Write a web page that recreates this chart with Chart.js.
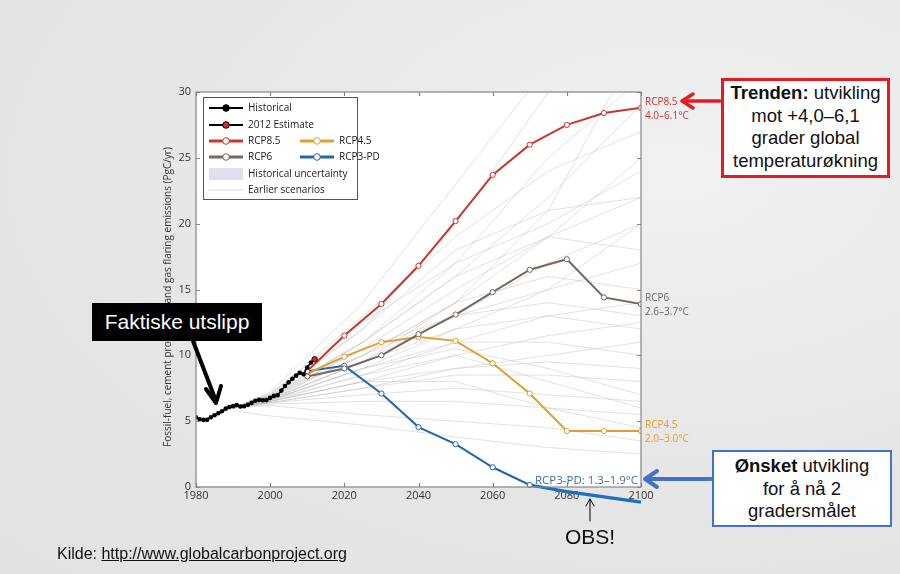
<!DOCTYPE html>
<html>
<head>
<meta charset="utf-8">
<script src="https://cdn.jsdelivr.net/npm/chart.js@4.4.1/dist/chart.umd.min.js"></script>
<style>
  body { margin: 0; background: #e6e6e6; font-family: "Liberation Sans", Arial, sans-serif; }
  #wrap { position: relative; width: 900px; height: 574px; overflow: hidden;
          background: radial-gradient(ellipse at 75% 30%, #f1f1f1 0%, #e6e6e6 55%, #e2e2e2 100%); }
  #chart { position: absolute; left: 0; top: 0; }
  .box { position: absolute; box-sizing: border-box; text-align: center; color: #111;
         font-size: 18.5px; line-height: 22.7px; background: #fff; }
  #faktisk { left: 92px; top: 303px; width: 170px; height: 38px; background: #000; color: #fff;
             font-size: 21px; line-height: 38px; }
  #trend { left: 721px; top: 78px; width: 169px; height: 100px; border: 3px solid #e31b23; padding-top: 1px; }
  #onsket { left: 712px; top: 450px; width: 180px; height: 77px; border: 2.5px solid #4472c4; padding-top: 3px; }
  #obs { position: absolute; left: 555px; top: 525px; width: 70px; text-align: center; font-size: 21px; color: #111; }
  #kilde { position: absolute; left: 57px; top: 545px; font-size: 16px; color: #111; }
  #kilde span { text-decoration: underline; }
  svg { position: absolute; left: 0; top: 0; }
</style>
</head>
<body>
<div id="wrap">
  <canvas id="chart" width="900" height="574"></canvas>
  <svg width="900" height="574">
    <g fill="none" stroke-linecap="round" stroke-linejoin="round">
      <path d="M193 341 L216 401" stroke="#000" stroke-width="4"/>
      <path d="M206 389 L216 403 L221 386" stroke="#000" stroke-width="4"/>
      <path d="M720 101 L684 101" stroke="#e31b23" stroke-width="3.5"/>
      <path d="M693 94 L682 101 L693 108" stroke="#e31b23" stroke-width="3.5"/>
      <path d="M711 479 L647 479" stroke="#4472c4" stroke-width="4"/>
      <path d="M657 471 L645 479 L657 487" stroke="#4472c4" stroke-width="4"/>
      <path d="M590 521 L590 499" stroke="#000" stroke-width="1"/>
      <path d="M586 506 L590 499 L594 506" stroke="#000" stroke-width="1"/>
    </g>
  </svg>
  <div class="box" id="faktisk">Faktiske utslipp</div>
  <div class="box" id="trend"><b>Trenden:</b> utvikling<br>mot +4,0–6,1<br>grader global<br>temperaturøkning</div>
  <div class="box" id="onsket"><b>Ønsket</b> utvikling<br>for å nå 2<br>gradersmålet</div>
  <div id="obs">OBS!</div>
  <div id="kilde">Kilde: <span>http://www.globalcarbonproject.org</span></div>
</div>
<script>
// historical emissions (PgC/yr)
const histYears = [1980, 1981, 1982, 1983, 1984, 1985, 1986, 1987, 1988, 1989, 1990, 1991, 1992, 1993, 1994, 1995,
  1996, 1997, 1998, 1999, 2000, 2001, 2002, 2003, 2004, 2005, 2006, 2007, 2008, 2009, 2010, 2011];
const histValues = [5.3, 5.15, 5.1, 5.1, 5.3, 5.45, 5.6, 5.75, 5.95, 6.07, 6.14, 6.23, 6.11, 6.13, 6.25, 6.39,
  6.55, 6.62, 6.59, 6.6, 6.77, 6.92, 6.97, 7.32, 7.67, 7.95, 8.22, 8.46, 8.68, 8.56, 9.08, 9.45];
const estimateYear = 2012;
const estimateValue = 9.7;

// RCP scenarios
const rcpYears = [2010, 2020, 2030, 2040, 2050, 2060, 2070, 2080, 2090, 2100];
const rcp85 = [8.8, 11.5, 13.9, 16.8, 20.2, 23.7, 26.0, 27.5, 28.4, 28.8];
const rcp6 = [8.4, 9.0, 10.0, 11.6, 13.1, 14.8, 16.5, 17.3, 14.4, 13.9];
const rcp45 = [8.6, 9.9, 11.0, 11.4, 11.1, 9.4, 7.1, 4.25, 4.25, 4.25];
const rcp3pd = [8.8, 9.2, 7.1, 4.55, 3.25, 1.5, 0.15, -0.35, -0.75, -1.15];

// earlier scenarios (grey fan)
const oldYears = [1990, 2000, 2025, 2050, 2075, 2100];
const oldScenarios = [
  [6.0, 7.0, 12, 20, 30, 38],
  [6.0, 7.2, 14, 23, 32, 40],
  [6.0, 7.0, 11, 17, 25, 31],
  [6.0, 6.8, 11, 16, 22, 29],
  [6.0, 7.0, 13, 19, 24, 27],
  [6.0, 6.9, 10, 14, 19, 25],
  [6.0, 6.8, 10.5, 15, 19, 22],
  [6.0, 6.7, 9.5, 13, 17, 20],
  [6.0, 6.9, 11, 16, 19, 18],
  [6.0, 6.6, 9, 12, 15, 17],
  [6.0, 6.8, 10, 14, 16, 15],
  [6.0, 6.6, 8.5, 11, 13, 14],
  [6.0, 6.7, 9.5, 12, 13, 12],
  [6.0, 6.5, 8, 10, 11.5, 12.5],
  [6.0, 6.6, 9, 11, 11, 10],
  [6.0, 6.5, 8, 9, 9.5, 9],
  [6.0, 6.4, 7.5, 8.5, 8.5, 8],
  [6.0, 6.5, 8.5, 10, 8, 6],
  [6.0, 6.4, 7, 7.5, 7, 6.5],
  [6.0, 6.3, 6.5, 6.5, 6, 5.5],
  [6.0, 6.5, 8, 8, 6, 4.5],
  [6.0, 6.2, 5.5, 5, 4.5, 3.5],
  [6.0, 6.6, 9.5, 14, 21, 34],
  [6.0, 6.8, 12, 18, 21, 22],
  [6.0, 6.7, 10, 13, 15, 20],
  [6.0, 6.4, 7.5, 9, 10, 11],
  [5.8, 5.4, 4.7, 3.8, 3.0, 2.5],
  [6.0, 7.1, 12.5, 17, 20, 24],
  [6.0, 6.9, 10.5, 13, 14, 13],
  [6.0, 6.6, 9, 10.5, 9, 7]
];

const xTicks = [1980, 2000, 2020, 2040, 2060, 2080, 2100];
const yTicks = [0, 5, 10, 15, 20, 25, 30];

const RED = '#c9362b', BROWN = '#756860', ORANGE = '#e0a02e', BLUE = '#2566ab';
const pts = (xs, ys) => xs.map((x, i) => ({ x, y: ys[i] }));

const rcpSet = (label, data, color) => ({
  label, data: pts(rcpYears, data), borderColor: color, borderWidth: 2,
  pointRadius: 2.6, pointBackgroundColor: '#fff', pointBorderColor: color, pointBorderWidth: 1,
  order: 1
});

const datasets = [];
oldScenarios.forEach((s, i) => datasets.push({
  label: 'old' + i, data: pts(oldYears, s), borderColor: 'rgba(185,185,185,0.42)',
  borderWidth: 1, pointRadius: 0, order: 3
}));
datasets.push(rcpSet('RCP8.5', rcp85, RED));
datasets.push(rcpSet('RCP6', rcp6, BROWN));
datasets.push(rcpSet('RCP4.5', rcp45, ORANGE));
const blue = rcpSet('RCP3-PD', rcp3pd, BLUE);
blue.clip = false;
blue.pointRadius = rcp3pd.map((v, i) => rcpYears[i] > 2070 ? 0 : 2.6);
blue.segment = { borderWidth: c => rcpYears[c.p0DataIndex] >= 2070 ? 3.2 : 2,
                 borderColor: c => rcpYears[c.p0DataIndex] >= 2070 ? '#1f6fc0' : BLUE };
datasets.push(blue);
datasets.push({
  label: 'Historical', data: pts(histYears, histValues), borderColor: '#000', borderWidth: 1.5,
  pointRadius: 2.3, pointBackgroundColor: '#000', pointBorderWidth: 0, order: 0
});
datasets.push({
  label: '2012 Estimate', data: [{ x: estimateYear, y: estimateValue }], borderColor: '#000',
  pointRadius: 2.8, pointBackgroundColor: '#d9262b', pointBorderColor: '#000', pointBorderWidth: 0.8,
  showLine: false, order: 0
});

const FONT = '"Open Sans", sans-serif';

// white plot area, frame with inward ticks, legend and labels
const decor = {
  id: 'decor',
  beforeDraw(chart) {
    const a = chart.chartArea, ctx = chart.ctx;
    ctx.save();
    ctx.fillStyle = '#fff';
    ctx.fillRect(a.left, a.top, a.right - a.left, a.bottom - a.top);
    ctx.restore();
  },
  afterDraw(chart) {
    const a = chart.chartArea, ctx = chart.ctx, x = chart.scales.x, y = chart.scales.y;
    ctx.save();
    ctx.strokeStyle = '#858585';
    ctx.lineWidth = 1.2;
    ctx.strokeRect(a.left, a.top, a.right - a.left, a.bottom - a.top);
    ctx.beginPath();
    yTicks.forEach(v => {
      const py = Math.round(y.getPixelForValue(v)) + 0.5;
      ctx.moveTo(a.left, py); ctx.lineTo(a.left + 4, py);
      ctx.moveTo(a.right, py); ctx.lineTo(a.right - 4, py);
    });
    xTicks.forEach(v => {
      const px = Math.round(x.getPixelForValue(v)) + 0.5;
      ctx.moveTo(px, a.bottom); ctx.lineTo(px, a.bottom - 4);
      ctx.moveTo(px, a.top); ctx.lineTo(px, a.top + 4);
    });
    ctx.stroke();

    // y axis title
    ctx.fillStyle = '#333';
    ctx.font = '10px ' + FONT;
    ctx.textAlign = 'center';
    ctx.textBaseline = 'middle';
    ctx.translate(168, 297);
    ctx.rotate(-Math.PI / 2);
    ctx.fillText('Fossil-fuel, cement production and gas flaring emissions (PgC/yr)', 0, 0);
    ctx.setTransform(1, 0, 0, 1, 0, 0);

    // scenario labels at the right
    ctx.textAlign = 'left';
    const lab = (txt, temp, end, color) => {
      const py = y.getPixelForValue(end);
      ctx.fillStyle = color;
      ctx.fillText(txt, a.right + 4, py - 6);
      ctx.fillText(temp, a.right + 4, py + 8);
    };
    lab('RCP8.5', '4.0–6.1°C', rcp85[rcp85.length - 1], RED);
    lab('RCP6', '2.6–3.7°C', rcp6[rcp6.length - 1], '#6f6864');
    lab('RCP4.5', '2.0–3.0°C', rcp45[rcp45.length - 1], ORANGE);
    ctx.fillStyle = '#3a6fa6';
    ctx.textAlign = 'right';
    ctx.font = '11.5px ' + FONT;
    ctx.fillText('RCP3-PD: 1.3–1.9°C', a.right - 3, 481);
    ctx.font = '10px ' + FONT;

    // legend
    const lx = 203.5, ly = 97.5;
    ctx.strokeStyle = '#555';
    ctx.lineWidth = 1;
    ctx.fillStyle = '#fff';
    ctx.fillRect(lx, ly, 154, 102);
    ctx.strokeRect(lx, ly, 154, 102);
    const sample = (x0, yy, color, width, dot, dotFill) => {
      ctx.strokeStyle = color; ctx.lineWidth = width;
      ctx.beginPath(); ctx.moveTo(x0, yy); ctx.lineTo(x0 + 34, yy); ctx.stroke();
      if (dot) {
        ctx.beginPath(); ctx.arc(x0 + 17, yy, 3.3, 0, Math.PI * 2);
        ctx.fillStyle = dotFill; ctx.fill();
        ctx.lineWidth = 1; ctx.strokeStyle = dot; ctx.stroke();
      }
    };
    const text = (t, tx, ty) => {
      ctx.fillStyle = '#222'; ctx.textAlign = 'left'; ctx.fillText(t, tx, ty);
    };
    sample(209, 108, '#000', 2, '#000', '#000'); text('Historical', 248, 108);
    sample(209, 125, '#000', 2, '#000', '#d9262b'); text('2012 Estimate', 248, 125);
    sample(209, 141, RED, 3, RED, '#fff'); text('RCP8.5', 248, 141);
    sample(300, 141, ORANGE, 3, ORANGE, '#fff'); text('RCP4.5', 339, 141);
    sample(209, 157, BROWN, 3, BROWN, '#fff'); text('RCP6', 248, 157);
    sample(300, 157, BLUE, 3, BLUE, '#fff'); text('RCP3-PD', 339, 157);
    ctx.fillStyle = '#dfdfee';
    ctx.fillRect(209, 168, 34, 12); text('Historical uncertainty', 248, 174);
    sample(209, 190, '#dcdce4', 1); text('Earlier scenarios', 248, 190);
    ctx.restore();
  }
};

new Chart(document.getElementById('chart'), {
  type: 'line',
  data: { datasets },
  options: {
    responsive: false,
    animation: false,
    layout: { padding: { left: 156, top: 92, right: 259, bottom: 67 } },
    plugins: { legend: { display: false }, tooltip: { enabled: false } },
    elements: { line: { tension: 0 } },
    scales: {
      x: {
        type: 'linear', min: 1980, max: 2100,
        afterFit: s => { s.height = 20; },
        afterBuildTicks: s => { s.ticks = xTicks.map(v => ({ value: v })); },
        grid: { display: false, drawTicks: false }, border: { display: false },
        ticks: { padding: 2, color: '#333', font: { family: FONT, size: 11 }, maxRotation: 0,
                 callback: v => String(v) }
      },
      y: {
        min: 0, max: 30,
        afterFit: s => { s.width = 40; },
        afterBuildTicks: s => { s.ticks = yTicks.map(v => ({ value: v })); },
        grid: { display: false, drawTicks: false }, border: { display: false },
        ticks: { padding: 5, color: '#333', font: { family: FONT, size: 11 }, callback: v => String(v) }
      }
    }
  },
  plugins: [decor]
});
</script>
</body>
</html>
